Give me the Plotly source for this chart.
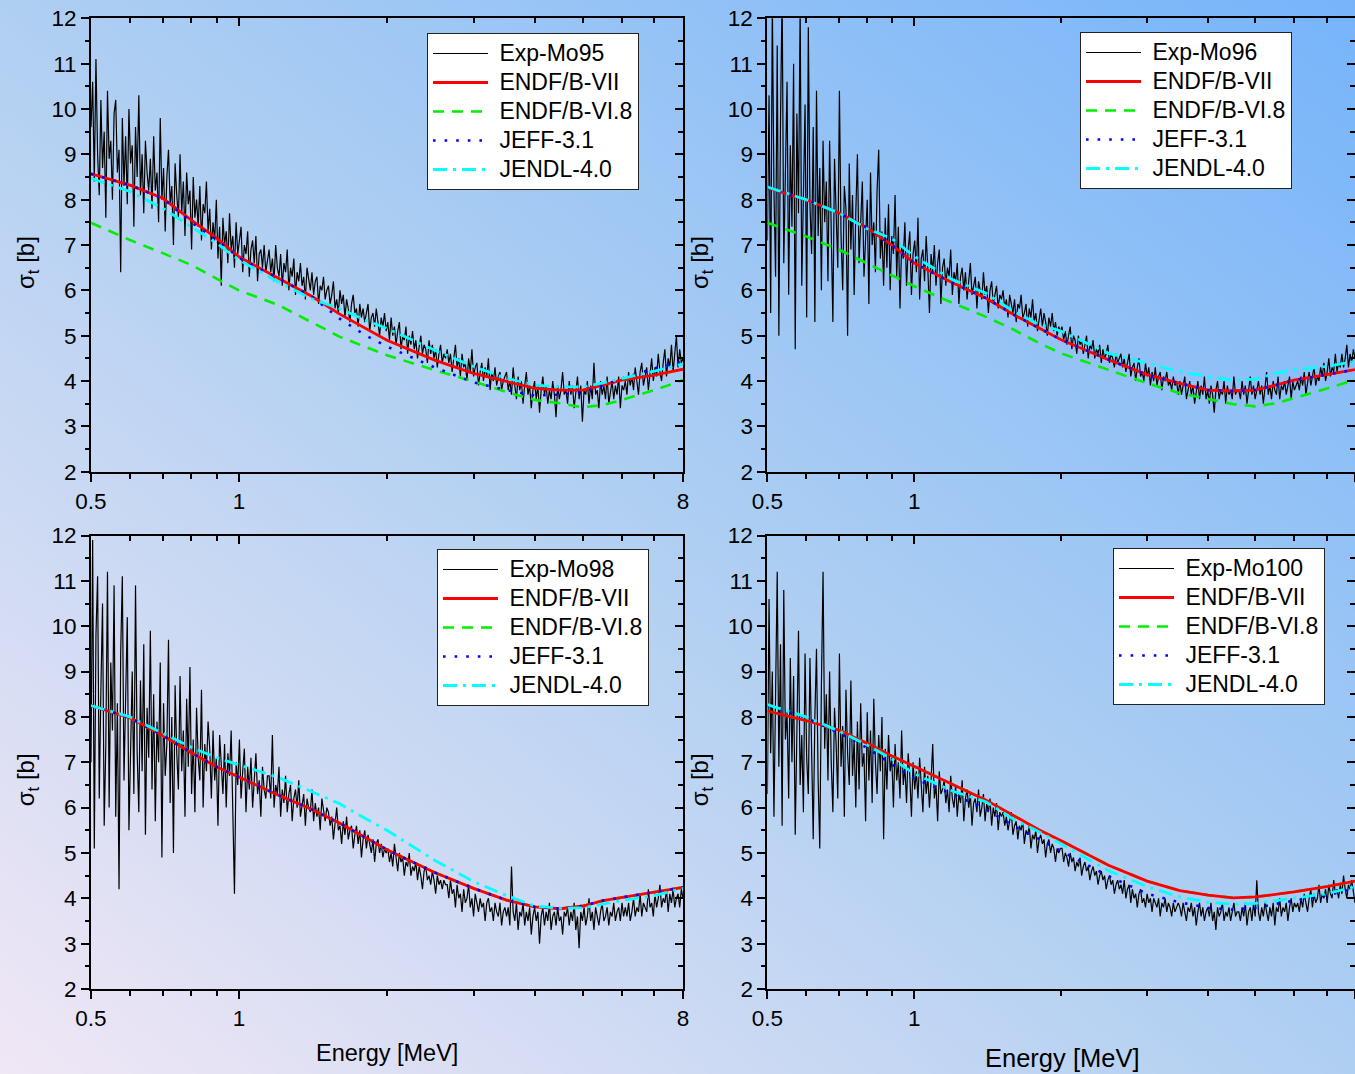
import numpy as np
import plotly.graph_objects as go

FONT = "Liberation Sans, Arial, sans-serif"

# ---------------- data ----------------
eval_energy = [0.5, 0.6, 0.7, 0.8, 0.9, 1.0, 1.2, 1.4, 1.6, 1.8, 2.0, 2.5, 3.0, 3.5,
               4.0, 4.5, 5.0, 5.5, 6.0, 7.0, 8.0]

# Mo95 (experimental points, evenly spaced in log(E) from 0.5 to 8 MeV)
mo95_exp = [
    9.6, 10.6, 8.4, 11.1, 9.0, 8.1, 10.2, 8.7, 9.5, 7.6, 10.4, 8.9, 9.3, 8.0, 9.9, 10.2, 8.6, 9.1,
    6.4, 9.8, 8.3, 9.4, 7.9, 10.0, 8.8, 9.2, 7.4, 9.6, 8.5, 10.3, 8.1, 9.0, 7.7, 9.3, 8.6, 8.2,
    8.9, 7.8, 9.4, 8.2, 8.6, 7.5, 9.8, 8.0, 8.7, 7.3, 8.5, 9.1, 7.9, 8.3, 7.0, 8.8, 8.1, 7.6,
    9.0, 7.7, 8.4, 7.2, 8.6, 7.9, 8.2, 6.9, 8.5, 7.6, 8.0, 7.4, 8.3, 7.1, 7.9, 7.7, 8.4, 7.3,
    7.8, 6.9, 7.5, 7.1, 8.0, 6.7, 7.4, 6.1, 7.6, 7.0, 7.3, 6.6, 7.7, 6.9, 7.2, 6.5, 7.5, 6.8,
    7.1, 7.4, 6.4, 7.0, 6.8, 7.3, 6.3, 6.9, 7.1, 6.6, 7.2, 6.2, 6.8, 6.9, 6.5, 7.0, 6.4, 6.7,
    6.9, 6.4, 6.7, 6.2, 7.0, 6.5, 6.3, 6.8, 6.1, 6.6, 6.4, 6.9, 6.0, 6.5, 6.3, 6.7, 5.9, 6.4,
    6.2, 6.6, 6.1, 6.3, 5.8, 6.5, 6.2, 6.0, 6.4, 5.9, 6.2, 6.3, 5.7, 6.1, 6.0, 6.3, 5.8, 6.0,
    6.1, 5.7, 5.9, 6.2, 5.6, 5.8, 5.5, 6.0, 5.7, 5.9, 5.4, 5.8, 5.6, 5.3, 5.7, 5.9, 5.5, 5.6,
    5.2, 5.7, 5.4, 5.6, 5.3, 5.5, 5.7, 5.1, 5.4, 5.5, 5.2, 5.6, 5.3, 5.0, 5.4, 5.2, 5.5, 5.1,
    5.3, 4.9, 5.4, 5.0, 5.2, 4.8, 5.1, 5.3, 4.7, 5.0, 4.9, 5.2, 4.6, 5.0, 4.8, 5.1, 4.7, 4.9,
    4.5, 4.8, 5.0, 4.6, 4.8, 4.7, 4.4, 4.9, 4.6, 4.8, 4.5, 4.7, 4.3, 4.6, 4.8, 4.4, 4.6, 4.5,
    4.7, 4.4, 4.6, 4.2, 4.5, 4.8, 4.3, 4.5, 4.1, 4.6, 4.3, 4.4, 4.0, 4.5, 4.2, 4.7, 4.1, 4.3,
    4.4, 3.9, 4.2, 4.4, 4.0, 4.3, 4.1, 4.5, 3.8, 4.2, 4.0, 4.3, 3.9, 4.1, 4.2, 3.8, 4.0, 4.1,
    4.2, 3.8, 4.0, 3.7, 4.3, 3.9, 3.6, 4.1, 3.8, 4.0, 3.5, 3.9, 4.2, 3.7, 3.9, 3.4, 3.8, 4.0,
    3.6, 3.9, 3.3, 3.8, 4.1, 3.7, 3.9, 3.5, 3.8, 3.6, 4.0, 3.7, 3.2, 3.9, 3.6, 3.8, 4.2, 3.7,
    3.8, 3.5, 4.0, 3.7, 3.9, 3.4, 3.8, 4.1, 3.6, 3.9, 3.1, 3.8, 3.7, 4.0, 3.5, 3.9, 3.6, 4.4,
    3.7, 3.8, 3.4, 4.0, 3.7, 3.9, 3.6, 4.1, 3.5, 3.8, 4.0, 3.6, 3.9, 3.7, 4.1, 3.4, 3.9, 3.8,
    4.0, 3.7, 4.2, 3.9, 4.1, 3.8, 4.3, 4.0, 3.7, 4.2, 4.4, 3.9, 4.1, 4.3, 3.8, 4.2, 4.5, 4.0,
    4.3, 4.1, 4.6, 4.2, 4.0, 4.4, 4.7, 4.1, 4.5, 4.3, 4.8, 4.2, 4.6, 5.0, 4.3, 4.7, 4.4, 4.5]
mo95_endfb7 = [8.57, 8.32, 8.03, 7.55, 7.15, 6.74, 6.27, 5.88, 5.48, 5.18, 4.90, 4.46,
               4.17, 3.99, 3.84, 3.80, 3.80, 3.91, 4.02, 4.13, 4.26]
mo95_endfb68 = [7.49, 7.11, 6.82, 6.56, 6.26, 6.00, 5.68, 5.31, 4.98, 4.76, 4.57, 4.24,
                3.99, 3.76, 3.58, 3.51, 3.42, 3.47, 3.58, 3.80, 4.02]
mo95_jeff31 = [8.57, 8.32, 8.03, 7.50, 7.12, 6.72, 6.27, 5.88, 5.38, 5.02, 4.76, 4.30,
               3.97, 3.80, 3.68, 3.70, 3.76, 3.90, 4.05, 4.28, 4.42]
mo95_jendl40 = [8.47, 8.18, 7.81, 7.40, 7.04, 6.67, 6.19, 5.82, 5.60, 5.35, 5.16, 4.68,
                4.32, 4.06, 3.91, 3.87, 3.87, 3.96, 4.05, 4.22, 4.38]

# Mo96
mo96_exp = [
    7.1, 10.3, 5.5, 12.4, 8.2, 6.3, 11.4, 5.0, 9.7, 12.6, 6.6, 8.9, 10.6, 5.9, 9.2, 7.4, 11.0, 4.7,
    9.9, 7.7, 12.3, 6.1, 8.5, 10.1, 5.4, 11.8, 7.9, 6.8, 9.6, 5.3, 10.4, 7.2, 8.7, 6.0, 9.3, 7.5,
    8.4, 6.2, 9.3, 7.1, 5.3, 8.9, 7.6, 6.5, 10.4, 7.2, 6.0, 8.3, 7.8, 5.0, 8.8, 6.9, 8.1, 5.9,
    7.7, 9.0, 6.6, 7.4, 8.4, 6.3, 7.1, 8.0, 5.7, 8.6, 7.0, 7.5, 6.4, 8.2, 9.1, 6.7, 7.3, 6.1,
    7.6, 6.5, 7.9, 6.0, 7.2, 6.8, 8.1, 6.3, 7.4, 5.6, 7.0, 6.7, 7.5, 6.1, 6.9, 7.3, 5.9, 6.8,
    7.1, 6.4, 7.6, 5.8, 6.7, 6.9, 6.2, 7.2, 6.5, 5.5, 6.8, 6.4, 7.0, 6.1, 6.6, 6.9, 5.7, 6.5,
    6.7, 6.1, 6.5, 6.3, 6.9, 5.9, 6.4, 6.2, 6.6, 5.7, 6.3, 6.5, 6.0, 6.4, 5.8, 6.2, 6.6, 5.9,
    6.1, 6.3, 5.6, 6.2, 6.0, 5.8, 6.4, 5.9, 6.1, 5.5, 6.0, 6.2, 5.7, 5.9, 6.1, 5.6, 5.9, 5.8,
    6.0, 5.6, 5.8, 5.4, 5.9, 5.7, 5.5, 5.8, 5.3, 5.7, 5.6, 5.9, 5.4, 5.5, 5.7, 5.2, 5.6, 5.4,
    5.8, 5.3, 5.5, 5.1, 5.4, 5.6, 5.2, 5.5, 5.3, 5.0, 5.4, 5.2, 5.5, 5.1, 5.3, 5.0, 5.2, 5.1,
    5.2, 4.9, 5.1, 4.8, 5.0, 5.2, 4.7, 5.0, 4.9, 4.6, 5.0, 4.8, 4.9, 4.6, 4.8, 5.0, 4.5, 4.8,
    4.7, 4.9, 4.5, 4.7, 4.6, 4.8, 4.4, 4.7, 4.5, 4.6, 4.8, 4.4, 4.6, 4.5, 4.3, 4.6, 4.4, 4.5,
    4.6, 4.3, 4.5, 4.2, 4.4, 4.6, 4.1, 4.3, 4.4, 4.0, 4.3, 4.5, 4.1, 4.2, 4.0, 4.4, 4.1, 4.3,
    3.9, 4.2, 4.0, 4.3, 3.9, 4.1, 4.2, 3.8, 4.1, 4.0, 4.2, 3.9, 4.0, 3.8, 4.1, 3.9, 4.0, 3.7,
    4.0, 3.7, 3.9, 4.1, 3.6, 3.8, 4.0, 3.7, 3.9, 3.5, 3.8, 4.0, 3.6, 3.9, 3.7, 4.1, 3.6, 3.8,
    3.5, 3.9, 3.7, 3.3, 3.8, 4.0, 3.6, 3.8, 3.7, 4.0, 3.5, 3.9, 3.7, 3.8, 3.6, 4.1, 3.7, 3.8,
    3.8, 3.6, 4.0, 3.7, 3.9, 3.5, 3.8, 4.1, 3.7, 3.9, 3.6, 3.8, 4.0, 3.7, 3.9, 3.5, 3.8, 4.2,
    3.7, 3.9, 3.6, 4.0, 3.8, 3.7, 4.1, 3.6, 3.9, 3.8, 4.0, 3.7, 3.9, 4.1, 3.6, 4.0, 3.8, 3.9,
    4.0, 3.8, 4.1, 3.9, 4.2, 3.7, 4.0, 4.2, 3.9, 4.1, 4.3, 3.9, 4.1, 4.0, 4.3, 4.1, 4.4, 4.0,
    4.2, 4.5, 4.1, 4.3, 4.2, 4.6, 4.2, 4.4, 4.3, 4.6, 4.3, 4.5, 4.8, 4.3, 4.6, 4.4, 4.7, 4.5]
mo96_endfb7 = [8.26, 8.00, 7.71, 7.38, 7.00, 6.60, 6.16, 5.83, 5.46, 5.17, 4.91, 4.47,
               4.14, 3.95, 3.80, 3.78, 3.80, 3.91, 4.02, 4.14, 4.25]
mo96_endfb68 = [7.49, 7.19, 6.90, 6.60, 6.34, 6.09, 5.72, 5.42, 5.13, 4.84, 4.61, 4.25,
                3.95, 3.73, 3.60, 3.49, 3.44, 3.51, 3.62, 3.84, 4.02]
mo96_jeff31 = [8.26, 8.00, 7.71, 7.38, 7.00, 6.60, 6.16, 5.83, 5.46, 5.17, 4.91, 4.47,
               4.14, 3.95, 3.80, 3.78, 3.80, 3.91, 4.02, 4.14, 4.25]
mo96_jendl40 = [8.28, 8.00, 7.71, 7.36, 7.14, 6.75, 6.23, 5.94, 5.53, 5.25, 5.10, 4.61,
                4.39, 4.21, 4.10, 4.02, 4.04, 4.17, 4.25, 4.32, 4.43]

# Mo98
mo98_exp = [
    7.0, 11.9, 5.1, 9.8, 11.1, 6.2, 8.6, 10.5, 5.6, 7.4, 11.2, 6.0, 9.2, 7.7, 10.9, 5.8, 8.3, 4.2,
    9.4, 11.1, 6.6, 8.1, 10.2, 5.5, 7.6, 9.0, 6.3, 10.9, 7.2, 5.9, 8.8, 6.8, 9.6, 5.4, 8.2, 7.1,
    9.9, 6.4, 8.5, 5.7, 7.9, 7.0, 9.2, 4.9, 8.3, 6.7, 7.4, 9.7, 6.1, 8.0, 5.0, 8.7, 7.2, 6.4,
    8.9, 6.8, 7.7, 5.8, 8.4, 6.9, 9.1, 6.3, 7.5, 5.9, 8.2, 7.1, 6.6, 8.6, 6.0, 7.4, 6.8, 7.9,
    7.3, 6.2, 7.7, 6.6, 7.1, 5.6, 7.6, 6.9, 6.3, 7.4, 6.0, 7.2, 6.7, 7.7, 6.1, 4.1, 7.0, 6.5,
    7.5, 6.2, 6.8, 7.3, 5.9, 6.9, 6.4, 7.1, 6.0, 6.7, 7.2, 6.3, 6.6, 5.8, 6.9, 6.4, 6.2, 6.7,
    6.7, 6.2, 7.6, 6.0, 6.5, 6.3, 6.9, 5.8, 6.4, 6.1, 6.7, 5.9, 6.3, 6.5, 5.7, 6.2, 6.4, 6.0,
    6.6, 5.8, 6.1, 6.3, 5.6, 6.2, 6.0, 5.9, 6.4, 5.7, 6.1, 5.8, 6.0, 5.5, 6.2, 5.9, 5.7, 6.0,
    5.9, 5.6, 5.8, 5.3, 5.7, 6.0, 5.5, 5.6, 5.2, 5.7, 5.4, 5.8, 5.3, 5.5, 5.6, 5.1, 5.4, 5.6,
    5.2, 5.5, 4.9, 5.3, 5.5, 5.1, 5.4, 5.2, 5.0, 5.3, 4.8, 5.2, 5.3, 5.0, 5.2, 4.9, 5.1, 5.0,
    5.1, 4.8, 5.0, 4.7, 5.2, 4.9, 4.6, 5.0, 4.8, 4.9, 4.5, 4.8, 4.7, 5.0, 4.5, 4.7, 4.6, 4.8,
    4.4, 4.7, 4.5, 4.2, 4.6, 4.7, 4.4, 4.5, 4.3, 4.6, 4.4, 4.1, 4.5, 4.3, 4.4, 4.2, 4.4, 4.3,
    4.3, 4.0, 4.4, 4.1, 4.2, 3.8, 4.3, 4.0, 4.1, 3.7, 4.2, 3.9, 4.0, 4.3, 3.8, 4.0, 3.6, 4.1,
    3.9, 3.7, 4.0, 3.8, 3.9, 3.5, 3.9, 4.0, 3.7, 3.8, 3.5, 3.9, 3.7, 3.6, 3.9, 3.4, 3.7, 3.8,
    3.6, 3.8, 3.4, 4.7, 3.7, 3.5, 3.9, 3.3, 3.7, 3.6, 3.9, 3.4, 3.7, 3.5, 3.8, 3.2, 3.6, 3.8,
    3.5, 3.7, 3.0, 3.6, 3.8, 3.4, 3.7, 3.5, 3.9, 3.3, 3.6, 3.7, 3.4, 3.8, 3.5, 3.6, 3.2, 3.7,
    3.6, 3.8, 3.4, 3.7, 3.5, 3.9, 3.3, 3.6, 2.9, 3.7, 3.5, 3.8, 3.4, 3.6, 4.0, 3.5, 3.7, 3.3,
    3.8, 3.6, 3.4, 3.7, 3.9, 3.5, 3.6, 3.8, 3.4, 3.7, 3.6, 3.9, 3.5, 3.7, 3.8, 3.5, 3.9, 3.6,
    3.8, 3.6, 3.9, 3.5, 3.7, 4.0, 3.6, 3.8, 3.7, 4.1, 3.6, 3.9, 3.8, 3.7, 4.2, 3.8, 3.9, 3.6,
    4.1, 3.8, 4.0, 4.3, 3.8, 4.0, 3.9, 4.2, 3.7, 4.1, 3.9, 4.2, 3.8, 4.0, 4.1, 3.8, 4.2, 4.0]
mo98_endfb7 = [8.25, 7.98, 7.59, 7.21, 6.90, 6.67, 6.28, 5.97, 5.66, 5.35, 5.07, 4.57,
               4.22, 3.96, 3.81, 3.77, 3.83, 3.95, 4.02, 4.14, 4.24]
mo98_endfb68 = [8.25, 7.98, 7.59, 7.21, 6.90, 6.67, 6.28, 5.97, 5.66, 5.35, 5.07, 4.57,
                4.22, 3.96, 3.81, 3.77, 3.83, 3.95, 4.02, 4.14, 4.24]
mo98_jeff31 = [8.25, 7.98, 7.59, 7.21, 6.90, 6.67, 6.28, 5.97, 5.66, 5.35, 5.07, 4.57,
               4.22, 3.96, 3.81, 3.77, 3.83, 3.95, 4.02, 4.14, 4.24]
mo98_jendl40 = [8.25, 8.00, 7.64, 7.33, 7.10, 6.94, 6.67, 6.36, 6.09, 5.77, 5.50, 4.84,
                4.37, 4.06, 3.83, 3.78, 3.79, 3.87, 3.95, 4.06, 4.22]

# Mo100
mo100_exp = [
    6.3, 10.6, 7.2, 9.0, 5.8, 8.4, 11.2, 6.9, 9.6, 5.6, 10.8, 7.5, 8.1, 6.2, 9.3, 7.0, 8.9, 5.4,
    8.2, 9.9, 6.5, 7.6, 5.9, 9.4, 7.1, 6.3, 9.3, 6.8, 5.3, 8.0, 9.5, 6.6, 5.1, 8.7, 11.2, 7.3,
    8.5, 6.6, 9.0, 7.0, 5.9, 8.2, 7.4, 6.2, 9.4, 6.9, 7.8, 5.8, 8.6, 7.2, 6.5, 8.8, 6.7, 7.5,
    6.0, 7.9, 6.4, 8.3, 6.9, 7.2, 5.7, 8.1, 6.6, 7.7, 6.1, 8.4, 7.0, 6.3, 7.6, 6.8, 8.0, 5.3,
    7.3, 6.4, 7.6, 6.8, 7.1, 6.0, 7.4, 6.6, 7.0, 6.2, 7.7, 6.5, 6.9, 6.1, 7.2, 6.7, 5.8, 7.0,
    6.4, 6.8, 6.2, 7.1, 6.5, 5.9, 6.9, 6.3, 6.7, 6.0, 6.6, 7.4, 6.2, 6.5, 5.7, 6.8, 6.3, 6.4,
    6.6, 6.1, 6.4, 5.9, 6.7, 6.2, 6.0, 6.5, 5.8, 6.3, 6.1, 6.6, 5.7, 6.2, 6.4, 6.0, 6.3, 5.6,
    6.1, 6.2, 5.9, 6.4, 5.8, 6.0, 6.3, 5.7, 6.1, 5.9, 6.2, 5.6, 6.0, 5.8, 6.1, 5.5, 5.9, 5.8,
    5.9, 5.6, 5.8, 5.5, 5.7, 5.9, 5.4, 5.6, 5.7, 5.3, 5.6, 5.5, 5.7, 5.2, 5.5, 5.4, 5.6, 5.1,
    5.4, 5.3, 5.5, 5.0, 5.3, 5.4, 5.2, 5.3, 4.9, 5.2, 5.3, 5.0, 5.2, 5.1, 4.8, 5.1, 5.0, 5.1,
    5.1, 4.8, 5.0, 4.9, 4.7, 5.0, 4.8, 4.9, 4.6, 4.8, 4.7, 4.9, 4.5, 4.7, 4.8, 4.6, 4.7, 4.4,
    4.6, 4.7, 4.5, 4.6, 4.3, 4.5, 4.6, 4.4, 4.5, 4.2, 4.4, 4.5, 4.3, 4.4, 4.1, 4.3, 4.4, 4.2,
    4.3, 4.1, 4.4, 4.0, 4.2, 4.3, 3.9, 4.2, 4.0, 4.1, 3.8, 4.1, 4.2, 3.9, 4.0, 3.8, 4.1, 3.9,
    4.0, 3.7, 4.0, 3.9, 3.8, 4.0, 3.6, 3.9, 3.8, 4.0, 3.7, 3.9, 3.8, 3.6, 3.9, 3.7, 3.8, 3.9,
    3.8, 3.6, 3.9, 3.7, 3.5, 3.8, 3.7, 3.9, 3.6, 3.8, 3.4, 3.7, 3.9, 3.6, 3.8, 3.5, 3.7, 3.8,
    3.6, 3.9, 3.5, 3.7, 3.3, 3.8, 3.6, 3.7, 3.9, 3.5, 3.7, 3.6, 3.8, 3.5, 3.7, 3.9, 3.6, 3.7,
    3.7, 3.5, 3.8, 3.6, 3.9, 3.4, 3.7, 3.8, 3.5, 3.9, 3.6, 4.4, 3.7, 3.5, 3.8, 3.6, 3.9, 3.7,
    3.5, 3.8, 3.6, 3.9, 3.4, 3.8, 3.7, 4.0, 3.6, 3.8, 3.7, 3.9, 3.5, 3.8, 4.0, 3.7, 3.9, 3.8,
    3.9, 3.7, 4.0, 3.8, 4.1, 3.9, 3.7, 4.0, 4.2, 3.8, 4.1, 3.9, 4.0, 4.3, 3.9, 4.1, 4.0, 4.2,
    3.9, 4.3, 4.1, 4.0, 4.4, 4.1, 4.2, 4.0, 4.3, 4.1, 4.5, 4.2, 4.0, 4.3, 4.2, 4.4, 4.1, 3.9]
mo100_endfb7 = [8.13, 7.92, 7.71, 7.42, 7.14, 6.91, 6.52, 6.17, 5.82, 5.51, 5.27, 4.73,
                4.38, 4.17, 4.07, 4.01, 4.03, 4.09, 4.14, 4.26, 4.38]
mo100_endfb68 = [8.13, 7.92, 7.71, 7.42, 7.14, 6.91, 6.52, 6.17, 5.82, 5.51, 5.27, 4.73,
                 4.38, 4.17, 4.07, 4.01, 4.03, 4.09, 4.14, 4.26, 4.38]
mo100_jeff31 = [8.25, 7.98, 7.65, 7.32, 6.95, 6.64, 6.29, 5.97, 5.59, 5.31, 5.04, 4.49,
                4.10, 3.91, 3.79, 3.75, 3.79, 3.87, 3.95, 4.06, 4.22]
mo100_jendl40 = [8.27, 8.00, 7.69, 7.38, 7.07, 6.75, 6.36, 6.13, 5.74, 5.47, 5.20, 4.61,
                 4.26, 4.03, 3.91, 3.87, 3.89, 3.95, 4.01, 4.10, 4.26]

exp_names = ["Exp-Mo95", "Exp-Mo96", "Exp-Mo98", "Exp-Mo100"]
lib_names = ["ENDF/B-VII", "ENDF/B-VI.8", "JEFF-3.1", "JENDL-4.0"]
x_major = [0.5, 1, 8]
x_major_text = ["0.5", "1", "8"]
x_minor = [0.6, 0.7, 0.8, 0.9, 2, 3, 4, 5, 6, 7]

datasets = [
    (mo95_exp, mo95_endfb7, mo95_endfb68, mo95_jeff31, mo95_jendl40),
    (mo96_exp, mo96_endfb7, mo96_endfb68, mo96_jeff31, mo96_jendl40),
    (mo98_exp, mo98_endfb7, mo98_endfb68, mo98_jeff31, mo98_jendl40),
    (mo100_exp, mo100_endfb7, mo100_endfb68, mo100_jeff31, mo100_jendl40),
]

# ---------------- layout geometry (pixels) ----------------
W, H = 1355, 1074
px_x = [(91, 683), (767.4, 1355), (91, 683), (767.4, 1355)]
px_y = [(18.3, 471.7), (18.3, 471.7), (535.5, 989), (535.5, 989)]
legend_pos = [(427, 33), (1080, 32), (437, 549), (1113, 548)]


def legend_label(s):
    # larger glyphs than the legend's row-spacing font, with a small gap after the sample
    return f'<span style="font-size:23px">\u00a0{s}</span>'


fig = go.Figure()

# gradient background on a hidden full-page subplot
g = np.linspace(0, 1, 11)
gz = [[(a + b) / 2 for a in g] for b in g]
fig.add_trace(go.Heatmap(
    x=g, y=g, z=gz, zmin=0, zmax=1, zsmooth="best", showscale=False,
    colorscale=[[0, "#f1e7f5"], [0.5, "#afcff2"], [1, "#76b4fa"]],
    hoverinfo="skip", xaxis="x", yaxis="y"))

layout = dict(
    template="none",
    width=W, height=H, margin=dict(l=0, r=0, t=0, b=0, pad=0, autoexpand=False),
    paper_bgcolor="#afcff2", plot_bgcolor="rgba(0,0,0,0)",
    showlegend=True,
    xaxis=dict(domain=[0, 1], range=[0, 1], visible=False, fixedrange=True, automargin=False),
    yaxis=dict(domain=[0, 1], range=[0, 1], visible=False, fixedrange=True, anchor="x",
               automargin=False),
)

tickfont = dict(family=FONT, size=22.5, color="black")
xr = [np.log10(0.5), np.log10(8.0)]

annotations = []
for i, (exp, red, green, blue, cyan) in enumerate(datasets):
    k = i + 2
    ko = i + 6
    xa, ya = f"x{k}", f"y{k}"
    xo, yo = f"x{ko}", f"y{ko}"
    lg = "legend" if i == 0 else f"legend{i + 1}"
    xd = [px_x[i][0] / W, px_x[i][1] / W]
    yd = [1 - px_y[i][1] / H, 1 - px_y[i][0] / H]
    right_panel = (i % 2 == 1)

    exp_energy = np.geomspace(0.5, 8.0, len(exp))
    fig.add_trace(go.Scatter(x=exp_energy, y=exp, mode="lines", name=legend_label(exp_names[i]),
                             line=dict(color="black", width=1.2), legend=lg, legendrank=1,
                             xaxis=xa, yaxis=ya, hoverinfo="skip"))
    fig.add_trace(go.Scatter(x=eval_energy, y=green, mode="lines", name=legend_label(lib_names[1]),
                             line=dict(color="#00ee00", width=2.6, dash="11px,8px"),
                             legend=lg, legendrank=3, xaxis=xa, yaxis=ya, hoverinfo="skip"))
    fig.add_trace(go.Scatter(x=eval_energy, y=red, mode="lines", name=legend_label(lib_names[0]),
                             line=dict(color="#ff0000", width=2.8),
                             legend=lg, legendrank=2, xaxis=xa, yaxis=ya, hoverinfo="skip"))
    fig.add_trace(go.Scatter(x=eval_energy, y=blue, mode="lines", name=legend_label(lib_names[2]),
                             line=dict(color="#0000ff", width=2.6, dash="2.6px,9px"),
                             legend=lg, legendrank=4, xaxis=xa, yaxis=ya, hoverinfo="skip"))
    fig.add_trace(go.Scatter(x=eval_energy, y=cyan, mode="lines", name=legend_label(lib_names[3]),
                             line=dict(color="#00ffff", width=2.8, dash="14px,6px,3px,6px"),
                             legend=lg, legendrank=5, xaxis=xa, yaxis=ya, hoverinfo="skip"))
    # empty trace to hold the mirrored (inner-tick) axes
    fig.add_trace(go.Scatter(x=[], y=[], mode="lines", showlegend=False,
                             xaxis=xo, yaxis=yo, hoverinfo="skip"))

    layout[f"xaxis{k}"] = dict(
        type="log", range=xr, domain=xd, anchor=ya, showline=True, linecolor="black",
        linewidth=2, ticks="outside", ticklen=8, tickwidth=2, tickcolor="black",
        tickmode="array", tickvals=x_major, ticktext=x_major_text, tickfont=tickfont,
        minor=dict(tickmode="array", tickvals=x_minor, ticks="outside", ticklen=5,
                   tickwidth=2, tickcolor="black", showgrid=False),
        showgrid=False, zeroline=False, fixedrange=True, automargin=False)
    layout[f"yaxis{k}"] = dict(
        range=[2, 12], domain=yd, anchor=xa, showline=True, linecolor="black",
        linewidth=2, ticks="outside", ticklen=8, tickwidth=2, tickcolor="black",
        tickmode="linear", tick0=0, dtick=1, tickfont=tickfont,
        minor=dict(tick0=0, dtick=0.5, ticks="outside", ticklen=4, tickwidth=2,
                   tickcolor="black", showgrid=False),
        showgrid=False, zeroline=False, fixedrange=True, automargin=False)
    layout[f"xaxis{ko}"] = dict(
        type="log", range=xr, overlaying=xa, side="top", anchor=yo, showline=True,
        linecolor="black", linewidth=2, ticks="inside", ticklen=8, tickwidth=2,
        tickcolor="black", tickmode="array", tickvals=x_major, showticklabels=False,
        minor=dict(tickmode="array", tickvals=x_minor, ticks="inside", ticklen=5,
                   tickwidth=2, tickcolor="black", showgrid=False),
        showgrid=False, zeroline=False, fixedrange=True, automargin=False)
    layout[f"yaxis{ko}"] = dict(
        range=[2, 12], overlaying=ya, side="right", anchor=xo, showline=not right_panel,
        linecolor="black", linewidth=2, ticks="inside", ticklen=8, tickwidth=2,
        tickcolor="black", tickmode="linear", tick0=0, dtick=1, showticklabels=False,
        minor=dict(tick0=0, dtick=0.5, ticks="inside", ticklen=5, tickwidth=2,
                   tickcolor="black", showgrid=False),
        showgrid=False, zeroline=False, fixedrange=True, automargin=False)

    lx, ly = legend_pos[i]
    layout[lg] = dict(
        x=lx / W, y=1 - ly / H, xanchor="left", yanchor="top", xref="paper", yref="paper",
        bgcolor="white", bordercolor="#222222", borderwidth=1,
        font=dict(family=FONT, size=20, color="black"), itemwidth=55,
        tracegroupgap=0, traceorder="normal")

    # y axis title
    ty_x = 27 if i % 2 == 0 else 701
    ty_y = (px_y[i][0] + px_y[i][1]) / 2 + 18
    annotations.append(dict(
        text="σ<sub>t</sub> [b]", x=ty_x / W, y=1 - ty_y / H, xref="paper", yref="paper",
        showarrow=False, textangle=-90, xanchor="center", yanchor="middle",
        font=dict(family=FONT, size=24, color="black")))

annotations.append(dict(text="Energy [MeV]", x=387 / W, y=1 - 1053 / H, xref="paper",
                        yref="paper", showarrow=False, xanchor="center", yanchor="middle",
                        font=dict(family=FONT, size=23.5, color="black")))
annotations.append(dict(text="Energy [MeV]", x=1062 / W, y=1 - 1058 / H, xref="paper",
                        yref="paper", showarrow=False, xanchor="center", yanchor="middle",
                        font=dict(family=FONT, size=25.5, color="black")))
layout["annotations"] = annotations

fig.update_layout(**layout)
fig.write_html("out.html", config={"responsive": False, "displayModeBar": False},
               post_script="document.body.style.margin='0px';")
